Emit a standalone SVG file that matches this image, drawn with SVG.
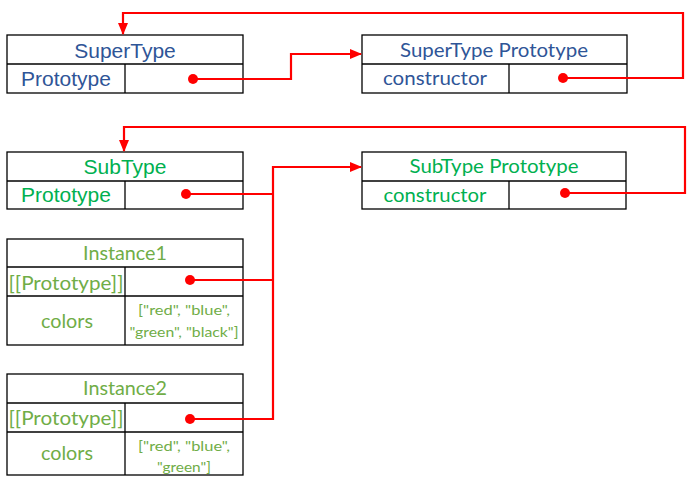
<svg xmlns="http://www.w3.org/2000/svg" width="695" height="489" viewBox="0 0 695 489">
<defs>
<marker id="arr" markerWidth="12" markerHeight="10" refX="11" refY="5" orient="auto" markerUnits="userSpaceOnUse">
<path d="M0,0 L12,5 L0,10 Z" fill="#FF0000"/>
</marker>
</defs>
<style>
.box{fill:#fff;stroke:#000;stroke-width:1.3}
.ln{fill:none;stroke:#000;stroke-width:1.3}
.c{fill:none;stroke:#FF0000;stroke-width:2.2}
.dot{fill:#FF0000}
.a{font-family:"Liberation Sans",Arial,sans-serif;font-size:21px;text-anchor:middle}
.b{font-family:Lato,"Open Sans",sans-serif;text-anchor:middle}
.blue{fill:#2F5597}
.g1{fill:#00B050}
.g2{fill:#70AD47}
</style>
<g id="supertype">
<rect class="box" x="7" y="35" width="236" height="58"/>
<line class="ln" x1="7" y1="64" x2="243" y2="64"/>
<line class="ln" x1="125" y1="64" x2="125" y2="93"/>
<text class="a blue" x="125" y="58">SuperType</text>
<text class="a blue" x="66" y="86">Prototype</text>
</g>
<g id="supertype-prototype">
<rect class="box" x="362" y="35" width="265" height="58"/>
<line class="ln" x1="362" y1="64" x2="627" y2="64"/>
<line class="ln" x1="509" y1="64" x2="509" y2="93"/>
<text class="b blue" x="494" y="57" font-size="19" textLength="188" lengthAdjust="spacingAndGlyphs">SuperType Prototype</text>
<text class="b blue" x="435" y="85" font-size="20" textLength="104" lengthAdjust="spacingAndGlyphs">constructor</text>
</g>
<g id="subtype">
<rect class="box" x="7" y="152" width="236" height="57"/>
<line class="ln" x1="7" y1="181" x2="243" y2="181"/>
<line class="ln" x1="125" y1="181" x2="125" y2="209"/>
<text class="a g1" x="125" y="174">SubType</text>
<text class="a g1" x="66" y="202">Prototype</text>
</g>
<g id="subtype-prototype">
<rect class="box" x="362" y="152" width="264" height="57"/>
<line class="ln" x1="362" y1="181" x2="626" y2="181"/>
<line class="ln" x1="509" y1="181" x2="509" y2="209"/>
<text class="b g1" x="494" y="173" font-size="19" textLength="169" lengthAdjust="spacingAndGlyphs">SubType Prototype</text>
<text class="b g1" x="435" y="202" font-size="20" textLength="103" lengthAdjust="spacingAndGlyphs">constructor</text>
</g>
<g id="instance1">
<rect class="box" x="7" y="239" width="236" height="106"/>
<line class="ln" x1="7" y1="267" x2="243" y2="267"/>
<line class="ln" x1="7" y1="296" x2="243" y2="296"/>
<line class="ln" x1="125" y1="267" x2="125" y2="345"/>
<text class="b g2" x="125" y="260" font-size="19" textLength="84" lengthAdjust="spacingAndGlyphs">Instance1</text>
<text class="b g2" x="66" y="290" font-size="19" textLength="115" lengthAdjust="spacingAndGlyphs">[[Prototype]]</text>
<text class="b g2" x="67" y="328" font-size="20" textLength="52" lengthAdjust="spacingAndGlyphs">colors</text>
<text class="b g2" x="184" y="315" font-size="14" textLength="92" lengthAdjust="spacingAndGlyphs">["red", "blue",</text>
<text class="b g2" x="184" y="337" font-size="14" textLength="109" lengthAdjust="spacingAndGlyphs">"green", "black"]</text>
</g>
<g id="instance2">
<rect class="box" x="7" y="374" width="236" height="101"/>
<line class="ln" x1="7" y1="403" x2="243" y2="403"/>
<line class="ln" x1="7" y1="432" x2="243" y2="432"/>
<line class="ln" x1="125" y1="403" x2="125" y2="475"/>
<text class="b g2" x="125" y="395" font-size="19" textLength="84" lengthAdjust="spacingAndGlyphs">Instance2</text>
<text class="b g2" x="66" y="425" font-size="19" textLength="115" lengthAdjust="spacingAndGlyphs">[[Prototype]]</text>
<text class="b g2" x="67" y="460" font-size="20" textLength="52" lengthAdjust="spacingAndGlyphs">colors</text>
<text class="b g2" x="184" y="451" font-size="14" textLength="92" lengthAdjust="spacingAndGlyphs">["red", "blue",</text>
<text class="b g2" x="184" y="472" font-size="14" textLength="54" lengthAdjust="spacingAndGlyphs">"green"]</text>
</g>
<g id="connectors">
<polyline class="c" points="193,79 291,79 291,54 361,54" marker-end="url(#arr)"/>
<polyline class="c" points="563,78 683,78 683,13 123,13 123,34" marker-end="url(#arr)"/>
<polyline class="c" points="186,194 273,194"/>
<polyline class="c" points="190,280 273,280"/>
<polyline class="c" points="190,419 273,419 273,167 361,167" marker-end="url(#arr)"/>
<polyline class="c" points="565,193 685,193 685,127 124,127 124,151" marker-end="url(#arr)"/>
<circle class="dot" cx="193" cy="79" r="5"/>
<circle class="dot" cx="563" cy="78" r="5"/>
<circle class="dot" cx="186" cy="194" r="5"/>
<circle class="dot" cx="565" cy="193" r="5"/>
<circle class="dot" cx="190" cy="280" r="5"/>
<circle class="dot" cx="190" cy="419" r="5"/>
</g>
</svg>
